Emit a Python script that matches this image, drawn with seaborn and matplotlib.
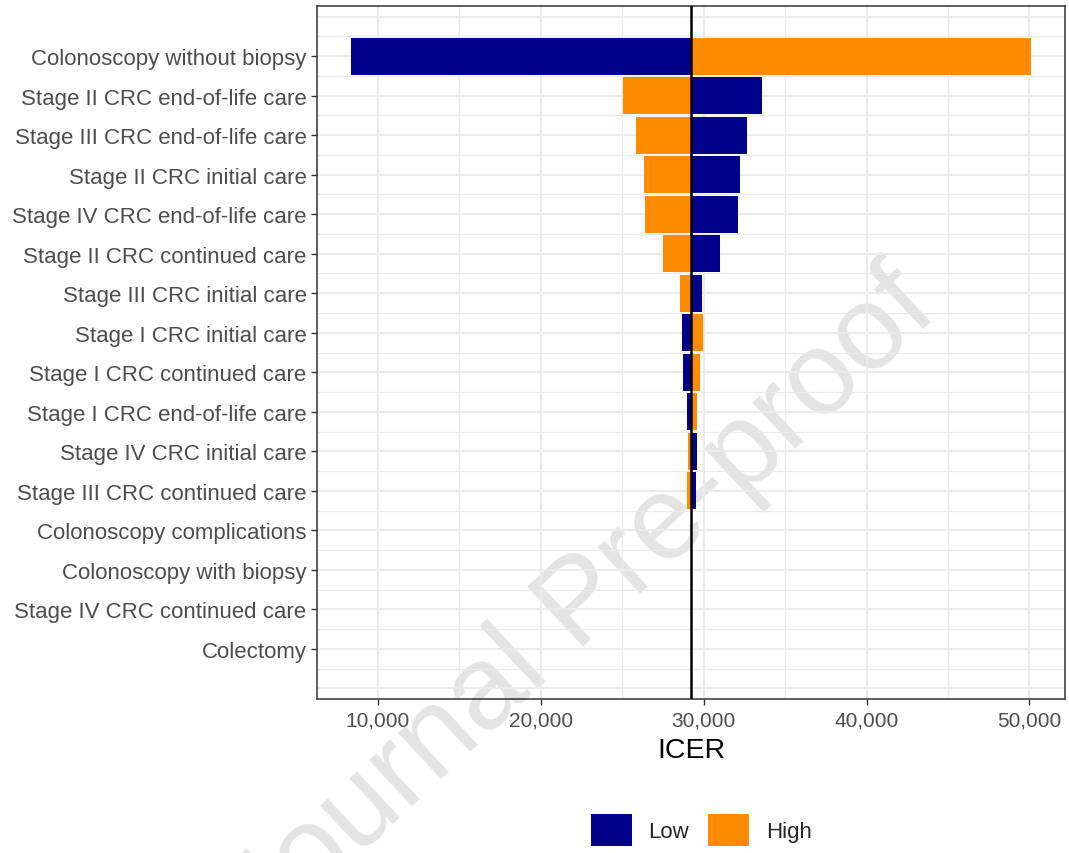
import matplotlib
matplotlib.use("Agg")
import matplotlib.pyplot as plt
from matplotlib.ticker import MultipleLocator, FuncFormatter
from matplotlib.patches import Patch
import seaborn as sns
import pandas as pd

# One-way sensitivity analysis: ICER at the low and high value of each input
parameters = [
    "Colonoscopy without biopsy",
    "Stage II CRC end-of-life care",
    "Stage III CRC end-of-life care",
    "Stage II CRC initial care",
    "Stage IV CRC end-of-life care",
    "Stage II CRC continued care",
    "Stage III CRC initial care",
    "Stage I CRC initial care",
    "Stage I CRC continued care",
    "Stage I CRC end-of-life care",
    "Stage IV CRC initial care",
    "Stage III CRC continued care",
    "Colonoscopy complications",
    "Colonoscopy with biopsy",
    "Stage IV CRC continued care",
    "Colectomy",
]
base_icer = 29250
icer_low = [8350, 33560, 32640, 32250, 32130, 30980, 29930, 28660,
            28740, 28990, 29580, 29540, 29250, 29250, 29250, 29250]
icer_high = [50100, 25060, 25830, 26340, 26430, 27500, 28540, 29970,
             29790, 29600, 29050, 28970, 29250, 29250, 29250, 29250]

levels = ["Low", "High"]
palette = {"Low": "#00008B", "High": "#FF8C00"}

df = pd.DataFrame({
    "parameter": parameters * 2,
    "level": ["Low"] * len(parameters) + ["High"] * len(parameters),
    "icer": icer_low + icer_high,
})
df["delta"] = df["icer"] - base_icer

sns.set_style("white")
plt.rcParams["font.family"] = ["Liberation Sans", "DejaVu Sans"]

fig = plt.figure(figsize=(10.69, 8.54), dpi=100)
ax = fig.add_axes([0.2965, 0.1803, 0.6998, 0.8115])
ax.set_facecolor("none")

# Bars start at the base-case ICER and extend to the low/high result
sns.barplot(
    data=df, y="parameter", x="delta", hue="level",
    order=parameters, hue_order=levels, palette=palette, saturation=1,
    dodge=False, width=0.94, errorbar=None, orient="y",
    left=base_icer, linewidth=0, legend=False, ax=ax, zorder=2,
)

# Axis range with ggplot-like 5% padding
lo = min(icer_low + icer_high)
hi = max(icer_low + icer_high)
pad = 0.05 * (hi - lo)
ax.set_xlim(lo - pad, hi + pad)
n = len(parameters)
ax.set_ylim(n - 1 + 1.27, -1.27)

# Grid: lines at every row and half row, majors and minors on x
grid_col = "#EBEBEB"
for k in range(-2, 2 * n + 1):
    yv = k / 2
    ax.axhline(yv, color=grid_col, lw=1.5 if k % 2 == 0 else 0.9, zorder=0)
ax.xaxis.set_major_locator(MultipleLocator(10000))
ax.xaxis.set_minor_locator(MultipleLocator(5000))
ax.grid(which="major", axis="x", color=grid_col, lw=1.5, zorder=0)
ax.grid(which="minor", axis="x", color=grid_col, lw=0.9, zorder=0)
ax.set_axisbelow(True)

ax.xaxis.set_major_formatter(FuncFormatter(lambda v, p: f"{int(v):,}"))
ax.axvline(base_icer, color="black", lw=1.8, zorder=3)

ax.tick_params(axis="both", which="major", length=4.5, width=1.0,
               color="#333333", labelcolor="#4D4D4D", labelsize=16, pad=3,
               bottom=True, left=True)
ax.tick_params(axis="x", which="major", labelsize=15, pad=4)
ax.tick_params(axis="x", which="minor", length=0)
ax.set_ylabel("")
ax.set_xlabel("ICER", fontsize=20.5, color="black", labelpad=5)

for sp in ax.spines.values():
    sp.set_visible(True)
    sp.set_color("#333333")
    sp.set_linewidth(1.1)

handles = [Patch(facecolor=palette[l], edgecolor="none", label=l) for l in levels]
fig.legend(handles=handles, loc="center", bbox_to_anchor=(0.656, 0.027),
           ncol=2, frameon=False, fontsize=16, handlelength=1.85,
           handleheight=1.85, handletextpad=0.75, columnspacing=0.85)

# Diagonal watermark, kept underneath the plot content
fig.text(0.545, 0.29, "Journal Pre-proof", fontsize=86, color="#E4E4E4",
         rotation=43, ha="center", va="center",
         rotation_mode="anchor", zorder=-1)

fig.savefig("out.png", dpi=100)
